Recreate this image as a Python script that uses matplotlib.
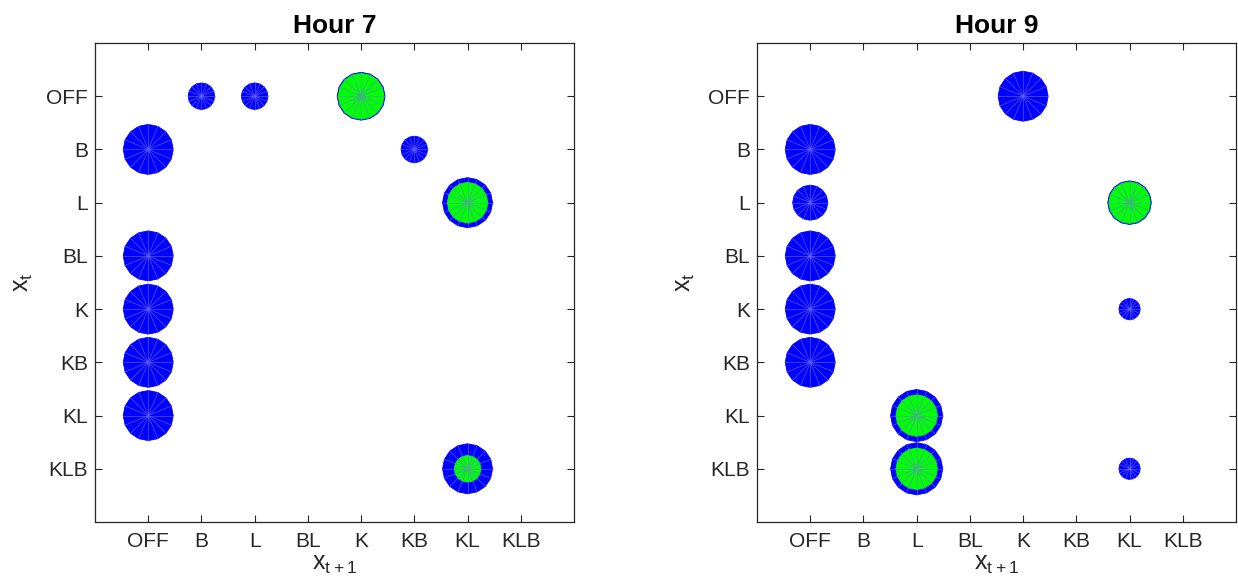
import numpy as np
import matplotlib
matplotlib.use("Agg")
import matplotlib.pyplot as plt
from matplotlib.patches import Polygon

plt.rcParams['font.family'] = ['Liberation Sans', 'DejaVu Sans']
plt.rcParams['mathtext.default'] = 'regular'

states = ['OFF', 'B', 'L', 'BL', 'K', 'KB', 'KL', 'KLB']

# Hour 7: (from state x_t, to state x_{t+1}), blue radius, green radius (0 = none)
h7_from = ['OFF', 'OFF', 'OFF', 'B', 'B', 'L', 'BL', 'K', 'KB', 'KL', 'KLB']
h7_to = ['B', 'L', 'K', 'OFF', 'KB', 'KL', 'OFF', 'OFF', 'OFF', 'OFF', 'KL']
h7_blue = [0.25, 0.25, 0.45, 0.47, 0.25, 0.47, 0.47, 0.47, 0.47, 0.47, 0.47]
h7_green = [0, 0, 0.43, 0, 0, 0.38, 0, 0, 0, 0, 0.25]

# Hour 9
h9_from = ['OFF', 'B', 'L', 'L', 'BL', 'K', 'K', 'KB', 'KL', 'KLB', 'KLB']
h9_to = ['K', 'OFF', 'OFF', 'KL', 'OFF', 'OFF', 'KL', 'OFF', 'L', 'L', 'KL']
h9_blue = [0.47, 0.47, 0.33, 0.41, 0.47, 0.47, 0.20, 0.47, 0.49, 0.49, 0.20]
h9_green = [0, 0, 0, 0.39, 0, 0, 0, 0, 0.39, 0.39, 0]

NSEG = 16


def disc(ax, cx, cy, r, face, spoke):
    ang = np.linspace(0, 2 * np.pi, NSEG, endpoint=False) + np.pi / 2
    xs = cx + r * np.cos(ang)
    ys = cy + r * np.sin(ang)
    ax.add_patch(Polygon(np.column_stack([xs, ys]), closed=True,
                         facecolor=face, edgecolor=face, linewidth=0.6, zorder=3))
    for x, y in zip(xs, ys):
        ax.plot([cx, x], [cy, y], color=spoke, linewidth=0.4, zorder=4)


def panel(ax, title, frm, to, blue, green):
    for f, t, b, g in zip(frm, to, blue, green):
        cx = states.index(t) + 1
        cy = states.index(f) + 1
        disc(ax, cx, cy, b, '#0000ff', '#6a6aff')
        if g > 0:
            disc(ax, cx, cy, g, '#00ff00', '#3cc070')
    ax.set_xlim(0, 9)
    ax.set_ylim(9, 0)
    ax.set_aspect('equal')
    ax.set_xticks(range(1, 9))
    ax.set_xticklabels(states)
    ax.set_yticks(range(1, 9))
    ax.set_yticklabels(states)
    ax.tick_params(direction='in', length=5, width=0.8, top=True, right=True,
                   labelsize=15, colors='#262626')
    ax.tick_params(axis='y', pad=5)
    ax.tick_params(axis='x', pad=7)
    for s in ax.spines.values():
        s.set_color('#262626')
        s.set_linewidth(0.9)
    ax.set_title(title, fontsize=19, fontweight='bold', pad=7)
    ax.set_xlabel('$x_{t+1}$', fontsize=18, color='#262626', labelpad=1)
    ax.set_ylabel('$x_t$', fontsize=18, color='#262626', labelpad=8)


fig = plt.figure(figsize=(12.38, 5.84), dpi=100)
ax1 = fig.add_axes([95 / 1238, 62 / 584, 479 / 1238, 479 / 584])
ax2 = fig.add_axes([757 / 1238, 62 / 584, 479 / 1238, 479 / 584])
panel(ax1, 'Hour 7', h7_from, h7_to, h7_blue, h7_green)
panel(ax2, 'Hour 9', h9_from, h9_to, h9_blue, h9_green)
fig.savefig('out.png', dpi=100)
